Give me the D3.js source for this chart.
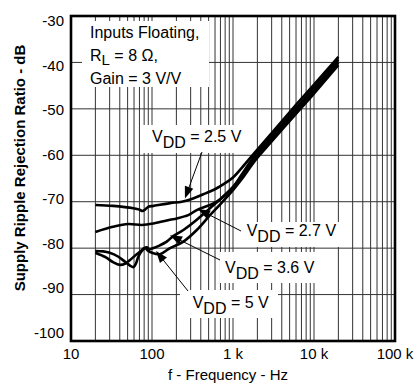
<!DOCTYPE html>
<html lang="en">
<head>
    <meta charset="UTF-8">
    <title>Supply Ripple Rejection Ratio vs Frequency</title>
    <style>
        body { margin: 0; background: #fff; }
        svg text { font-family: "Liberation Sans", Arial, Helvetica, sans-serif; fill: #000; }
        .grid line { stroke: #333; stroke-width: 1; }
        .curve { fill: none; stroke: #000; stroke-width: 2.6px; }
        .note { font-size: 16px; }
        .tick { font-size: 15px; }
    </style>
</head>
<body>
    <div id="chart"></div>
    <script src="https://d3js.org/d3.v7.min.js"></script>
    <script>

        // values (frequency in Hz, SRR in dB)
        var f25 = [20, 33, 59, 70, 76, 82, 90, 104, 167, 233, 322, 430, 520, 630, 800, 1000, 1300, 1900, 3000, 6100, 10000, 15000, 20000];
        var srr25 = [-70.7, -70.9, -71.4, -71.7, -72.0, -71.7, -71.1, -70.9, -70.3, -70.0, -69.3, -68.4, -67.8, -67.1, -66.0, -64.8, -62.6, -59.2, -55.2, -49.0, -44.8, -41.3, -38.8];

        var f27 = [20, 33, 51, 75, 104, 167, 202, 280, 357, 520, 630, 800, 1000, 1300, 1900, 3000, 6100, 10000, 15000, 20000];
        var srr27 = [-76.5, -75.4, -74.8, -75.0, -74.7, -73.9, -73.6, -72.9, -71.8, -70.7, -70.0, -68.6, -66.9, -64.0, -59.8, -55.8, -49.7, -45.5, -41.9, -39.4];

        var f36 = [20, 27, 33, 40, 47, 53, 62, 71, 80, 86, 93, 100, 125, 152, 183, 244, 357, 520, 700, 1000, 1300, 1900, 3000, 6100, 10000, 15000, 20000];
        var srr36 = [-81.0, -82.0, -83.0, -83.6, -83.3, -82.6, -81.6, -80.8, -80.0, -79.8, -80.2, -80.1, -79.4, -78.6, -77.4, -76.1, -73.9, -71.4, -69.4, -66.8, -64.4, -60.4, -56.4, -50.3, -46.1, -42.5, -40.0];

        var f50 = [20, 25, 30, 38, 47, 54, 59, 63, 68, 75, 82, 90, 100, 125, 167, 244, 357, 520, 700, 1000, 1300, 1900, 3000, 6100, 10000, 15000, 20000];
        var srr50 = [-80.6, -80.7, -81.0, -81.8, -83.0, -83.8, -84.1, -83.4, -81.8, -80.6, -80.0, -80.6, -81.0, -81.3, -80.0, -78.6, -76.1, -72.9, -70.5, -67.5, -65.0, -61.0, -57.0, -50.9, -46.7, -43.1, -40.6];

        var yTicks = [-30, -40, -50, -60, -70, -80, -90, -100];
        var xTicks = [10, 100, 1000, 10000, 100000];
        var xTickLabels = ["10", "100", "1 k", "10 k", "100 k"];
        var vddLabels = ["2.5 V", "2.7 V", "3.6 V", "5 V"];

        var series = [
            { f: f25, v: srr25 },
            { f: f27, v: srr27 },
            { f: f36, v: srr36 },
            { f: f50, v: srr50 }
        ];

        var W = 415, H = 385;
        var margin = { top: 16, right: 20, bottom: 44, left: 71 };
        var width = W - margin.left - margin.right,
            height = H - margin.top - margin.bottom;

        var svg = d3.select("#chart").append("svg")
            .attr("width", W)
            .attr("height", H);

        var x = d3.scaleLog().domain([10, 100000]).range([0, width]);
        var y = d3.scaleLinear().domain([-30, -100]).range([0, height]);
        // tick labels sit slightly inside the gridline span in the original
        var yLab = d3.scaleLinear().domain([-30, -100]).range([5, height - 8.5]);

        var g = svg.append("g")
            .attr("transform", "translate(" + margin.left + "," + margin.top + ")");

        // grid
        var minor = [];
        for (var d = 10; d < 100000; d *= 10) {
            for (var k = 1; k < 10; k++) {
                if (d * k > 10) minor.push(d * k);
            }
        }
        var grid = g.append("g").attr("class", "grid");
        grid.selectAll(".vx").data(minor).enter().append("line")
            .attr("x1", function (d) { return x(d); })
            .attr("x2", function (d) { return x(d); })
            .attr("y1", 0).attr("y2", height);
        grid.selectAll(".hy").data(yTicks.slice(1, -1)).enter().append("line")
            .attr("x1", 0).attr("x2", width)
            .attr("y1", function (d) { return y(d); })
            .attr("y2", function (d) { return y(d); });

        // white label boxes (in plot pixel space)
        var boxes = [
            [11, 5, 127, 66],
            [72, 109, 100, 28],
            [169, 206, 102, 25],
            [149, 236, 98, 31],
            [109, 274, 98, 28]
        ];
        g.selectAll(".box").data(boxes).enter().append("rect")
            .attr("x", function (b) { return b[0]; })
            .attr("y", function (b) { return b[1]; })
            .attr("width", function (b) { return b[2]; })
            .attr("height", function (b) { return b[3]; })
            .attr("fill", "#fff");

        // curves
        var line = d3.line()
            .x(function (d) { return x(d[0]); })
            .y(function (d) { return y(d[1]); })
            .curve(d3.curveCatmullRom.alpha(0.5));

        series.forEach(function (s) {
            g.append("path")
                .datum(d3.zip(s.f, s.v))
                .attr("class", "curve")
                .attr("d", line);
        });

        // arrows: tip in data space, tail in plot pixels
        var arrows = [
            { tip: [255, -69.3], tail: [131, 136] },
            { tip: [370, -71.6], tail: [170, 215] },
            { tip: [167, -77.2], tail: [149, 244] },
            { tip: [112, -80.6], tail: [117, 275] }
        ];
        arrows.forEach(function (a) {
            var tx = x(a.tip[0]), ty = y(a.tip[1]);
            var dx = a.tail[0] - tx, dy = a.tail[1] - ty;
            var len = Math.sqrt(dx * dx + dy * dy);
            var ux = dx / len, uy = dy / len;
            var hl = 12, hw = 4.5;
            g.append("line")
                .attr("x1", a.tail[0]).attr("y1", a.tail[1])
                .attr("x2", tx + ux * hl * 0.8).attr("y2", ty + uy * hl * 0.8)
                .attr("stroke", "#000").attr("stroke-width", 1);
            var bx = tx + ux * hl, by = ty + uy * hl;
            g.append("path")
                .attr("d", "M" + tx + "," + ty +
                    "L" + (bx - uy * hw) + "," + (by + ux * hw) +
                    "L" + (bx + uy * hw) + "," + (by - ux * hw) + "Z")
                .attr("fill", "#000");
        });

        // notes
        var note = g.append("text").attr("class", "note");
        note.append("tspan").attr("x", 19).attr("y", 22).text("Inputs Floating,");
        var rl = g.append("text").attr("class", "note").attr("x", 19).attr("y", 45);
        rl.append("tspan").text("R");
        rl.append("tspan").attr("dy", 4).attr("font-size", "15px").text("L");
        rl.append("tspan").attr("dy", -4).text(" = 8 \u03A9,");
        g.append("text").attr("class", "note").attr("x", 19).attr("y", 68).text("Gain = 3 V/V");

        var vddPos = [[81, 125.7], [175.7, 220], [154, 256.7], [121.7, 292.3]];
        vddPos.forEach(function (p, i) {
            var t = g.append("text").attr("class", "note").attr("x", p[0]).attr("y", p[1]);
            t.append("tspan").text("V");
            t.append("tspan").attr("dy", 6).text("DD");
            t.append("tspan").attr("dy", -6).text(" = " + vddLabels[i]);
        });

        // frame
        g.append("rect")
            .attr("width", width).attr("height", height)
            .attr("fill", "none").attr("stroke", "#000").attr("stroke-width", 2.6);

        // tick labels
        g.selectAll(".ylab").data(yTicks).enter().append("text")
            .attr("class", "tick")
            .attr("x", -7)
            .attr("y", function (d) { return yLab(d); })
            .attr("dy", "0.36em")
            .attr("text-anchor", "end")
            .text(function (d) { return d; });

        g.selectAll(".xlab").data(xTicks).enter().append("text")
            .attr("class", "tick")
            .attr("x", function (d) { return x(d); })
            .attr("y", height + 18)
            .attr("text-anchor", "middle")
            .text(function (d, i) { return xTickLabels[i]; });

        // axis titles
        svg.append("text")
            .attr("transform", "translate(25," + 168 + ") rotate(-90)")
            .attr("text-anchor", "middle")
            .attr("font-size", "15px")
            .attr("font-weight", "bold")
            .text("Supply Ripple Rejection Ratio - dB");

        svg.append("text")
            .attr("x", 228).attr("y", 380)
            .attr("text-anchor", "middle")
            .attr("font-size", "15px")
            .text("f - Frequency - Hz");

    </script>
</body>
</html>
